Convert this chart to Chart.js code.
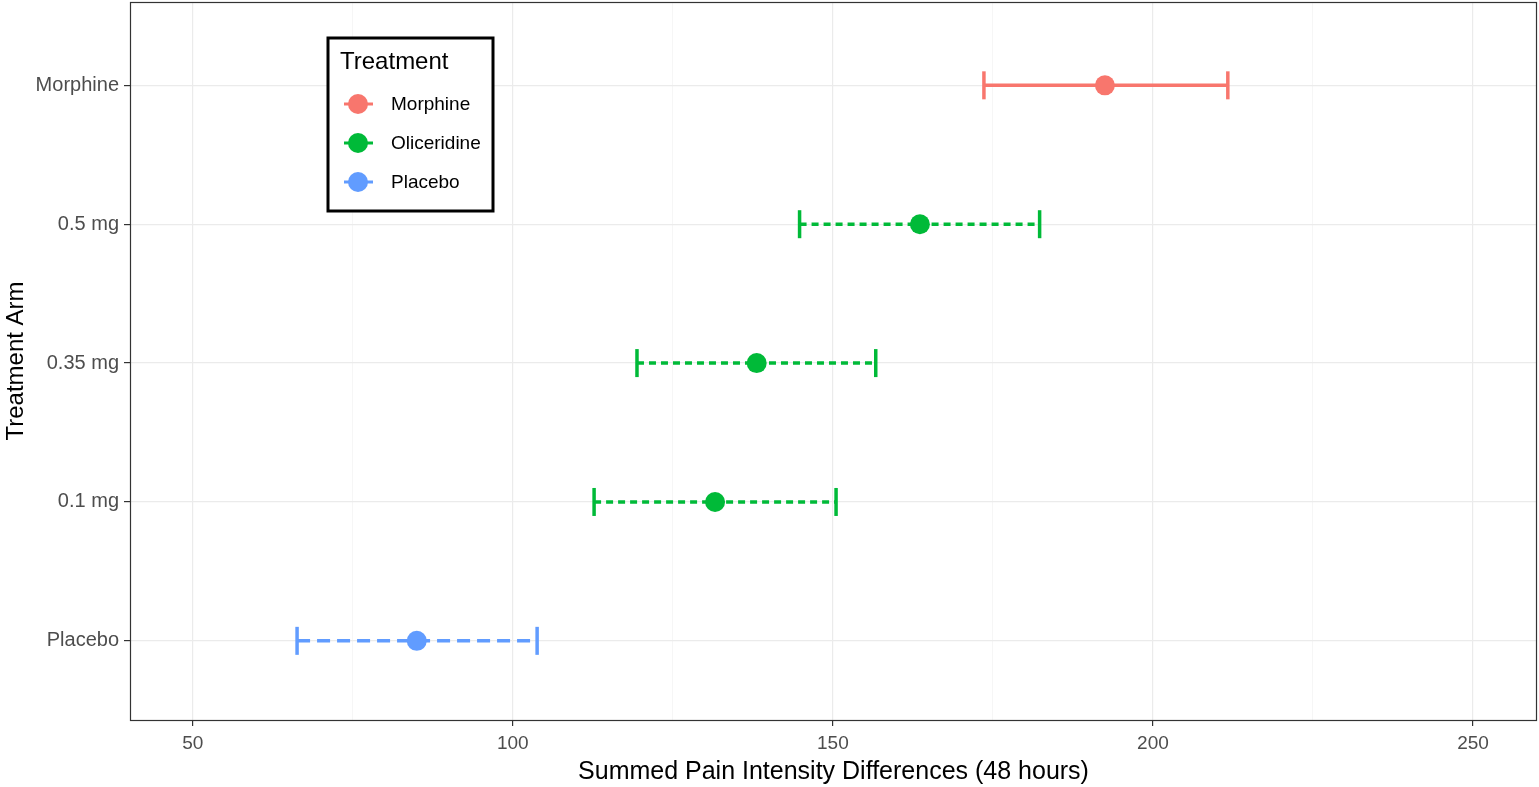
<!DOCTYPE html>
<html>
<head>
<meta charset="utf-8">
<script src="https://cdn.jsdelivr.net/npm/chart.js@4/dist/chart.umd.min.js"></script>
<style>
  html, body { margin: 0; padding: 0; background: #fff; }
  #wrap { width: 1539px; height: 787px; }
</style>
</head>
<body>
<div id="wrap"><canvas id="spid" width="1539" height="787"></canvas></div>
<script>
// Treatment arms, top to bottom
const arms = ['Morphine', '0.5 mg', '0.35 mg', '0.1 mg', 'Placebo'];
const armGroup = ['Morphine', 'Oliceridine', 'Oliceridine', 'Oliceridine', 'Placebo'];
const meanSPID = [192.5, 163.6, 138.1, 131.6, 85.0];
const lowerCI = [173.6, 144.8, 119.4, 112.7, 66.3];
const upperCI = [211.7, 182.3, 156.7, 150.5, 103.8];
const xTicks = [50, 100, 150, 200, 250];

const groups = ['Morphine', 'Oliceridine', 'Placebo'];
const groupColor = { Morphine: '#F8766D', Oliceridine: '#00BA38', Placebo: '#619CFF' };
const groupDash = { Morphine: [], Oliceridine: [7, 5], Placebo: [13, 7] };

const FONT = '"Liberation Sans", Arial, sans-serif';

const datasets = [];
arms.forEach((arm, i) => {
    const g = armGroup[i];
    datasets.push({
        type: 'line',
        label: arm + ' CI',
        data: [{ x: lowerCI[i], y: i }, { x: upperCI[i], y: i }],
        borderColor: groupColor[g],
        backgroundColor: groupColor[g],
        borderWidth: 3.5,
        borderDash: groupDash[g],
        pointStyle: 'line',
        rotation: 90,
        pointRadius: 14,
        pointBorderWidth: 3.5,
        pointBorderColor: groupColor[g],
        order: 2
    });
});
datasets.push({
    type: 'scatter',
    label: 'mean',
    data: arms.map((a, i) => ({ x: meanSPID[i], y: i })),
    backgroundColor: armGroup.map(g => groupColor[g]),
    borderWidth: 0,
    pointRadius: 10,
    order: 1
});

// panel border like theme_bw
const panelBorder = {
    id: 'panelBorder',
    afterDraw(chart) {
        const { ctx, chartArea: a } = chart;
        ctx.save();
        ctx.strokeStyle = '#333333';
        ctx.lineWidth = 1.2;
        ctx.strokeRect(a.left + 0.5, a.top + 0.5, a.right - a.left - 1, a.bottom - a.top);
        ctx.restore();
    }
};

// boxed legend with title
const boxLegend = {
    id: 'boxLegend',
    afterDraw(chart) {
        const ctx = chart.ctx;
        ctx.save();
        ctx.fillStyle = '#fff';
        ctx.fillRect(328, 38, 165, 173);
        ctx.strokeStyle = '#000';
        ctx.lineWidth = 3;
        ctx.strokeRect(328, 38, 165, 173);
        ctx.fillStyle = '#000';
        ctx.textBaseline = 'middle';
        ctx.font = '24px ' + FONT;
        ctx.fillText('Treatment', 340, 62);
        ctx.font = '19px ' + FONT;
        groups.forEach((g, k) => {
            const y = 104 + k * 39;
            ctx.strokeStyle = groupColor[g];
            ctx.lineWidth = 3;
            ctx.setLineDash([]);
            ctx.beginPath();
            ctx.moveTo(344, y);
            ctx.lineTo(373, y);
            ctx.stroke();
            ctx.fillStyle = groupColor[g];
            ctx.beginPath();
            ctx.arc(358, y, 10, 0, Math.PI * 2);
            ctx.fill();
            ctx.fillStyle = '#000';
            ctx.fillText(g, 391, y + 1);
        });
        ctx.restore();
    }
};

new Chart(document.getElementById('spid'), {
    data: { datasets },
    options: {
        responsive: false,
        animation: false,
        events: [],
        layout: { autoPadding: false, padding: { top: 2, right: 2, left: 0, bottom: 0 } },
        plugins: {
            legend: { display: false },
            tooltip: { enabled: false }
        },
        scales: {
            x: {
                type: 'linear',
                min: 40.2,
                max: 260,
                afterFit(scale) {
                    scale.height = 67;
                    scale.paddingLeft = 0;
                    scale.paddingRight = 0;
                },
                ticks: {
                    stepSize: 25,
                    includeBounds: false,
                    autoSkip: false,
                    maxRotation: 0,
                    color: '#4D4D4D',
                    font: { family: FONT, size: 19 },
                    padding: 6,
                    callback: v => xTicks.includes(v) ? String(v) : ''
                },
                grid: {
                    color: c => xTicks.includes(c.tick && c.tick.value) ? '#EBEBEB' : '#F4F4F4',
                    lineWidth: c => xTicks.includes(c.tick && c.tick.value) ? 1.2 : 0.8,
                    tickColor: c => xTicks.includes(c.tick && c.tick.value) ? '#333333' : 'rgba(0,0,0,0)',
                    tickLength: 6,
                    drawOnChartArea: true
                },
                border: { display: false },
                title: {
                    display: true,
                    text: 'Summed Pain Intensity Differences (48 hours)',
                    color: '#000',
                    font: { family: FONT, size: 25 },
                    padding: { top: 0, bottom: 0 }
                }
            },
            y: {
                type: 'linear',
                min: -0.6,
                max: 4.57,
                reverse: true,
                afterFit(scale) {
                    scale.width = 130;
                    scale.paddingTop = 0;
                    scale.paddingBottom = 0;
                },
                ticks: {
                    stepSize: 1,
                    includeBounds: false,
                    autoSkip: false,
                    color: '#4D4D4D',
                    font: { family: FONT, size: 20 },
                    padding: 5,
                    callback: v => Number.isInteger(v) && arms[v] ? arms[v] : ''
                },
                grid: {
                    color: '#EBEBEB',
                    lineWidth: 1.2,
                    tickColor: '#333333',
                    tickLength: 6
                },
                border: { display: false },
                title: {
                    display: true,
                    text: 'Treatment Arm',
                    color: '#000',
                    font: { family: FONT, size: 24 },
                    padding: { top: 2, bottom: 0 }
                }
            }
        }
    },
    plugins: [panelBorder, boxLegend]
});
</script>
</body>
</html>
